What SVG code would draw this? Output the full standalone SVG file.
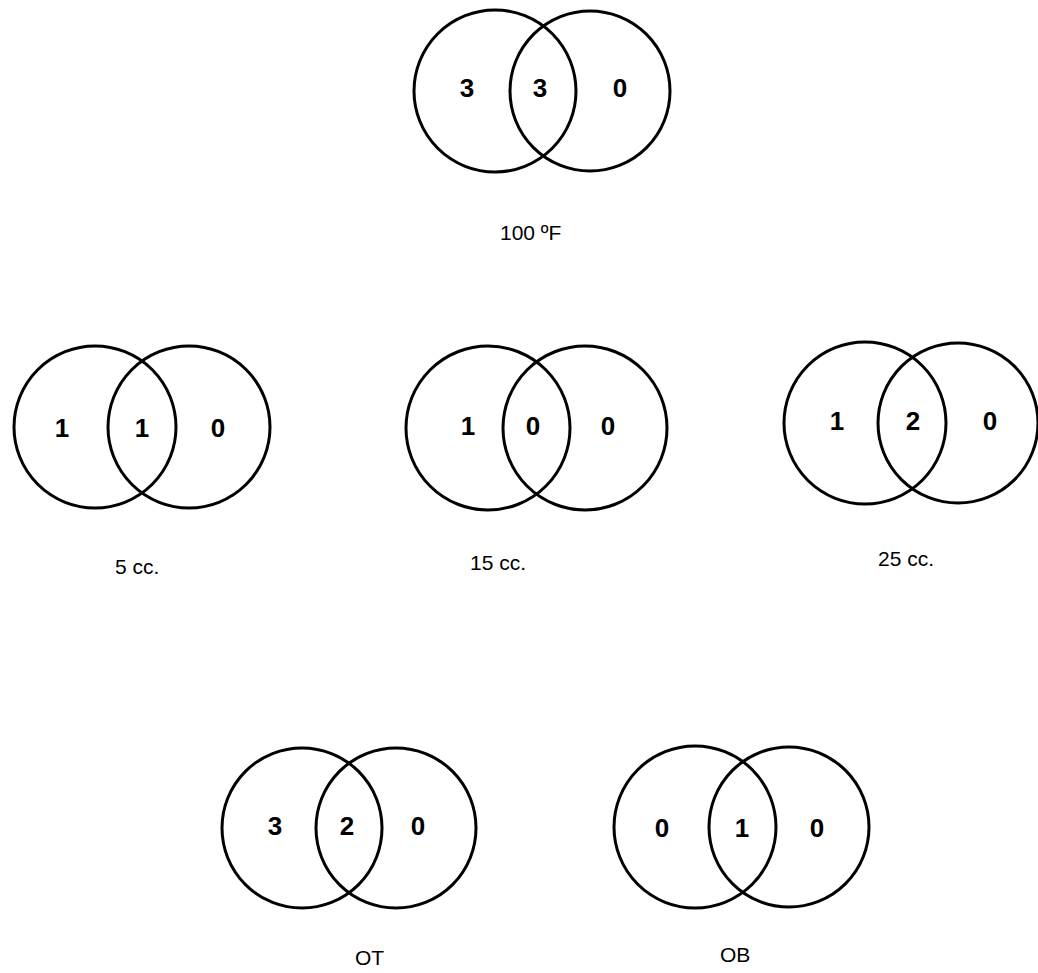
<svg xmlns="http://www.w3.org/2000/svg" width="1038" height="973" viewBox="0 0 1038 973">
<style>
.c{fill:none;stroke:#000;stroke-width:3}
.n{font-family:"Liberation Sans Narrow","Liberation Sans",sans-serif;font-weight:bold;font-size:26px;text-anchor:middle;fill:#000}
.l{font-family:"Liberation Sans",Arial,sans-serif;font-size:21px;fill:#000}
</style>
<rect width="1038" height="973" fill="#fff"/>
<g id="venn-100F">
<circle class="c" cx="495" cy="91" r="81"/>
<circle class="c" cx="590" cy="91" r="80"/>
<text class="n" x="467" y="97">3</text>
<text class="n" x="540" y="97">3</text>
<text class="n" x="620" y="97">0</text>
<text class="l" x="500" y="240">100 ºF</text>
</g>
<g id="venn-5cc">
<circle class="c" cx="95" cy="427" r="81"/>
<circle class="c" cx="189" cy="427" r="81"/>
<text class="n" x="62" y="437">1</text>
<text class="n" x="142" y="437">1</text>
<text class="n" x="218" y="437">0</text>
<text class="l" x="115" y="574">5 cc.</text>
</g>
<g id="venn-15cc">
<circle class="c" cx="488" cy="428" r="82"/>
<circle class="c" cx="585" cy="428" r="82"/>
<text class="n" x="468" y="435">1</text>
<text class="n" x="533" y="435">0</text>
<text class="n" x="608" y="435">0</text>
<text class="l" x="470" y="570">15 cc.</text>
</g>
<g id="venn-25cc">
<circle class="c" cx="865" cy="423" r="81"/>
<circle class="c" cx="958" cy="423" r="80"/>
<text class="n" x="837" y="430">1</text>
<text class="n" x="913" y="430">2</text>
<text class="n" x="990" y="430">0</text>
<text class="l" x="878" y="566">25 cc.</text>
</g>
<g id="venn-OT">
<circle class="c" cx="302" cy="828" r="80"/>
<circle class="c" cx="396" cy="828" r="80"/>
<text class="n" x="275" y="835">3</text>
<text class="n" x="347" y="835">2</text>
<text class="n" x="418" y="835">0</text>
<text class="l" x="355" y="965">OT</text>
</g>
<g id="venn-OB">
<circle class="c" cx="695" cy="827" r="81"/>
<circle class="c" cx="789" cy="827" r="80"/>
<text class="n" x="662" y="837">0</text>
<text class="n" x="742" y="837">1</text>
<text class="n" x="817" y="837">0</text>
<text class="l" x="720" y="962">OB</text>
</g>
<g id="connectors"/>
</svg>
